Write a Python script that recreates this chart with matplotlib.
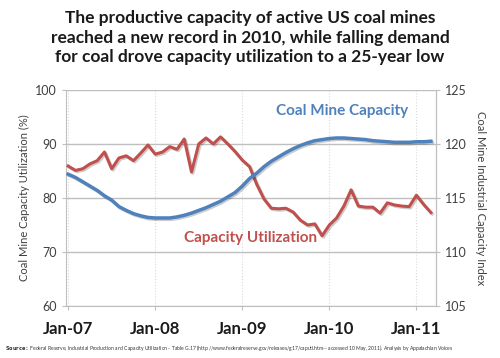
import matplotlib
matplotlib.use('Agg')
import matplotlib.pyplot as plt
import matplotlib.patheffects as pe

plt.rcParams['font.family'] = ['Lato', 'DejaVu Sans']

# monthly data, Jan-07 .. Mar-11
months = list(range(51))
utilization = [85.9, 85.1, 85.4, 86.3, 86.9, 88.5, 85.4, 87.4, 87.8, 86.9,
               88.3, 89.8, 88.1, 88.5, 89.5, 89.0, 90.9, 84.8, 90.0, 91.1,
               90.0, 91.3, 90.0, 88.6, 87.0, 85.8, 82.5, 79.8, 78.1, 78.0,
               78.1, 77.4, 75.9, 75.0, 75.2, 73.0, 75.0, 76.3, 78.5, 81.5,
               78.5, 78.3, 78.3, 77.2, 79.1, 78.7, 78.5, 78.4, 80.5, 78.8,
               77.3]
capacity = [117.2, 116.9, 116.5, 116.1, 115.7, 115.2, 114.8, 114.2, 113.85, 113.55,
            113.35, 113.2, 113.15, 113.15, 113.15, 113.25, 113.4, 113.6, 113.85, 114.1,
            114.4, 114.7, 115.1, 115.5, 116.1, 116.8, 117.3, 117.9, 118.4, 118.8,
            119.2, 119.55, 119.85, 120.1, 120.3, 120.4, 120.5, 120.55, 120.55, 120.5,
            120.45, 120.4, 120.3, 120.25, 120.2, 120.15, 120.15, 120.15, 120.2, 120.2,
            120.25]
tick_pos = [0, 12, 24, 36, 48]
tick_labels = ['Jan-07', 'Jan-08', 'Jan-09', 'Jan-10', 'Jan-11']

red = '#c0504d'
blue = '#4f81bd'
grid = '#bfbfbf'
shadow = [pe.SimpleLineShadow(offset=(1, -1), alpha=0.2), pe.Normal()]

fig = plt.figure(figsize=(5, 3.58), dpi=100)
ax = fig.add_axes([0.132, 0.145, 0.74, 0.604])
ax2 = ax.twinx()

ax.plot(months, utilization, color=red, lw=2.2, path_effects=shadow, zorder=3)
ax2.plot(months, capacity, color=blue, lw=2.5, path_effects=shadow, zorder=3)

ax.set_xlim(-0.3, 50.7)
ax.set_ylim(60, 100)
ax2.set_ylim(105, 125)
ax.set_yticks([60, 70, 80, 90, 100])
ax2.set_yticks([105, 110, 115, 120, 125])
ax.set_xticks(tick_pos)
ax.set_xticklabels(tick_labels, fontsize=12, fontweight='bold', color='#1a1a1a')

ax.grid(axis='y', color=grid, lw=1)
ax.grid(axis='x', color='#d9d9d9', lw=0.8, ls=':')
ax.set_axisbelow(True)

for a in (ax, ax2):
    a.spines['top'].set_visible(False)
    for s in ('left', 'right', 'bottom'):
        a.spines[s].set_color(grid)
ax2.spines['left'].set_visible(False)
ax2.spines['bottom'].set_visible(False)

ax.tick_params(axis='y', colors=grid, labelcolor='#404040', labelsize=9, length=3)
ax2.tick_params(axis='y', colors=grid, labelcolor='#404040', labelsize=9, length=3)
ax.tick_params(axis='x', colors=grid, length=3, pad=8)
for lab in ax.get_xticklabels():
    lab.set_color('#1a1a1a')

ax.set_ylabel('Coal Mine Capacity Utilization (%)', fontsize=8, color='#404040', labelpad=4)
ax2.set_ylabel('Coal Mine Industrial Capacity Index', fontsize=8, color='#404040',
               rotation=270, labelpad=14)

ax2.text(0.745, 0.9, 'Coal Mine Capacity', transform=ax.transAxes, color=blue,
         fontsize=11, fontweight='bold', ha='center', va='center')
ax.text(0.5, 0.315, 'Capacity Utilization', transform=ax.transAxes, color=red,
        fontsize=11, fontweight='bold', ha='center', va='center')

fig.text(0.5, 0.895, 'The productive capacity of active US coal mines\n'
         'reached a new record in 2010, while falling demand\n'
         'for coal drove capacity utilization to a 25-year low',
         ha='center', va='center', fontsize=12.5, fontweight='bold',
         color='#1a1a1a', linespacing=1.25)

fig.text(0.01, 0.028, r'$\bf{Source:}$ Federal Reserve, Industrial Production and Capacity Utilization - '
         'Table G.17 (http://www.federalreserve.gov/releases/g17/caputl.htm-- accessed 10 May, 2011). '
         'Analysis by Appalachian Voices', fontsize=3.6, color='#333333', va='center')

fig.savefig('out.png', dpi=100)
